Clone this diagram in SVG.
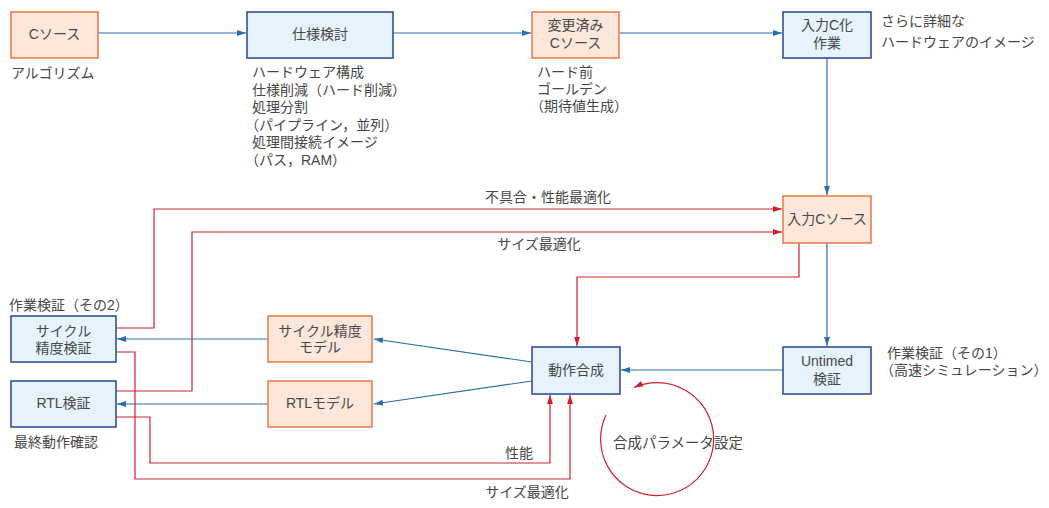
<svg xmlns="http://www.w3.org/2000/svg" width="1049" height="508" viewBox="0 0 1049 508">
<style>
text{font-family:"Liberation Sans","Noto Sans CJK JP",sans-serif;font-size:14px;fill:#474747;dominant-baseline:central}
.c{text-anchor:middle}
.o{fill:#fde7db;stroke:#e8804e;stroke-width:1.6}
.b{fill:#e6f3fc;stroke:#31509a;stroke-width:1.6}
.bl{fill:none;stroke:#2a6db0;stroke-width:1.2}
.rd{fill:none;stroke:#d21f30;stroke-width:1.2}
</style>
<defs>
<marker id="ab" markerUnits="userSpaceOnUse" markerWidth="9" markerHeight="6" refX="9" refY="3" orient="auto"><path d="M0,0 L9,3 L0,6 z" fill="#2a6db0"/></marker>
<marker id="ar" markerUnits="userSpaceOnUse" markerWidth="9" markerHeight="6" refX="9" refY="3" orient="auto"><path d="M0,0 L9,3 L0,6 z" fill="#d21f30"/></marker>
</defs>
<rect width="1049" height="508" fill="#ffffff"/>
<g id="connectors">
<path class="bl" d="M98,33 H246" marker-end="url(#ab)"/>
<path class="bl" d="M393,33 H531" marker-end="url(#ab)"/>
<path class="bl" d="M619,33 H782" marker-end="url(#ab)"/>
<path class="bl" d="M827,58 V195" marker-end="url(#ab)"/>
<path class="bl" d="M827,243 V346" marker-end="url(#ab)"/>
<path class="bl" d="M783,370 H621" marker-end="url(#ab)"/>
<path class="bl" d="M268,339 H117" marker-end="url(#ab)"/>
<path class="bl" d="M268,404 H117" marker-end="url(#ab)"/>
<path class="bl" d="M532,362 L374,339" marker-end="url(#ab)"/>
<path class="bl" d="M532,381 L374,404" marker-end="url(#ab)"/>
<path class="rd" d="M116,328 H154 V209 H782" marker-end="url(#ar)"/>
<path class="rd" d="M116,391 H192 V232 H782" marker-end="url(#ar)"/>
<path class="rd" d="M799,243 V277 H577 V346" marker-end="url(#ar)"/>
<path class="rd" d="M116,352 H135 V479 H570 V395" marker-end="url(#ar)"/>
<path class="rd" d="M116,417 H150 V463 H550 V395" marker-end="url(#ar)"/>
<path class="rd" d="M606,415 A56.5,56.5 0 1 0 634,387.5" marker-end="url(#ar)"/>
<text x="548" y="197" class="c">不具合・性能最適化</text>
<text x="539" y="244" class="c">サイズ最適化</text>
<text x="533" y="453" text-anchor="end">性能</text>
<text x="527" y="492" class="c">サイズ最適化</text>
<text x="613" y="443" style="font-size:14.5px">合成パラメータ設定</text>
</g>
<g id="n-csource">
<rect class="o" x="11" y="12" width="87" height="46"/>
<text x="54.5" y="34" class="c">Cソース</text>
<text x="11" y="73">アルゴリズム</text>
</g>
<g id="n-spec">
<rect class="b" x="247" y="12" width="146" height="46"/>
<text x="320" y="34" class="c">仕様検討</text>
<text x="252" y="72"><tspan x="252" y="72">ハードウェア構成</tspan><tspan x="252" y="89.5">仕様削減（ハード削減）</tspan><tspan x="252" y="107">処理分割</tspan><tspan x="245" y="124.5">（パイプライン，並列）</tspan><tspan x="252" y="142">処理間接続イメージ</tspan><tspan x="245" y="159.5">（パス，RAM）</tspan></text>
</g>
<g id="n-modified">
<rect class="o" x="532" y="12" width="87" height="46"/>
<text class="c"><tspan x="575.5" y="25">変更済み</tspan><tspan x="575.5" y="43">Cソース</tspan></text>
<text><tspan x="537" y="72">ハード前</tspan><tspan x="537" y="89">ゴールデン</tspan><tspan x="530" y="106">（期待値生成）</tspan></text>
</g>
<g id="n-inputwork">
<rect class="b" x="783" y="12" width="88" height="46"/>
<text class="c"><tspan x="827" y="25">入力C化</tspan><tspan x="827" y="43">作業</tspan></text>
<text><tspan x="881" y="21">さらに詳細な</tspan><tspan x="881" y="42">ハードウェアのイメージ</tspan></text>
</g>
<g id="n-inputc">
<rect class="o" x="783" y="196" width="88" height="47"/>
<text x="827" y="219" class="c">入力Cソース</text>
</g>
<g id="n-synth">
<rect class="b" x="532" y="347" width="88" height="47"/>
<text x="576" y="370" class="c">動作合成</text>
</g>
<g id="n-untimed">
<rect class="b" x="783" y="347" width="88" height="47"/>
<text class="c"><tspan x="827" y="361">Untimed</tspan><tspan x="827" y="379">検証</tspan></text>
<text><tspan x="887" y="353">作業検証（その1）</tspan><tspan x="880" y="370">（高速シミュレーション）</tspan></text>
</g>
<g id="n-cycleverify">
<rect class="b" x="11" y="316" width="105" height="46"/>
<text class="c"><tspan x="63.5" y="331">サイクル</tspan><tspan x="63.5" y="348">精度検証</tspan></text>
<text x="9" y="305">作業検証（その2）</text>
</g>
<g id="n-rtlverify">
<rect class="b" x="11" y="381" width="105" height="46"/>
<text x="63.5" y="403" class="c">RTL検証</text>
<text x="14" y="442">最終動作確認</text>
</g>
<g id="n-cyclemodel">
<rect class="o" x="268" y="316" width="104" height="46"/>
<text class="c"><tspan x="320" y="331">サイクル精度</tspan><tspan x="320" y="347">モデル</tspan></text>
</g>
<g id="n-rtlmodel">
<rect class="o" x="268" y="381" width="104" height="46"/>
<text x="320" y="403" class="c">RTLモデル</text>
</g>
</svg>
